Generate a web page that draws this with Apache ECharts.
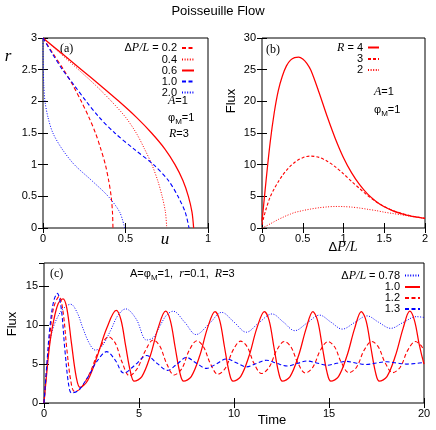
<!DOCTYPE html>
<html><head><meta charset="utf-8">
<script src="https://cdn.jsdelivr.net/npm/echarts@6/dist/echarts.min.js"></script>
<style>html,body{margin:0;padding:0;background:#fff}#c{width:436px;height:430px}</style>
</head><body><div id="c"></div>
<script>
// ---------- Panel (a): velocity profiles, r levels and u values ----------
const rLevels = [3, 2.75, 2.5, 2.25, 2, 1.75, 1.5, 1.25, 1, 0.75, 0.5, 0.25, 0];
const uDP02 = [0, 0.062, 0.125, 0.182, 0.232, 0.278, 0.318, 0.35, 0.378, 0.398, 0.413, 0.421, 0.424];
const uDP04 = [0, 0.108, 0.215, 0.32, 0.415, 0.5, 0.565, 0.615, 0.66, 0.695, 0.722, 0.742, 0.75];
const uDP06 = [0, 0.117, 0.233, 0.348, 0.46, 0.565, 0.658, 0.738, 0.8, 0.848, 0.881, 0.903, 0.913];
const uDP10 = [0, 0.057, 0.118, 0.19, 0.262, 0.34, 0.435, 0.55, 0.67, 0.76, 0.818, 0.862, 0.885];
const uDP20 = [0, 0.0005, 0.002, 0.005, 0.012, 0.03, 0.06, 0.115, 0.19, 0.295, 0.395, 0.465, 0.495];

// ---------- Panel (b): flux vs pressure gradient ----------
const bDP = [0, 0.02, 0.05, 0.1, 0.15, 0.2, 0.25, 0.3, 0.35, 0.4, 0.45, 0.5, 0.55, 0.6, 0.7, 0.8, 0.9, 1.0, 1.1, 1.2, 1.3, 1.4, 1.5, 1.6, 1.7, 1.8, 1.9, 2.0];
const fluxR4 = [1.0, 3.6, 7.5, 13.5, 18.2, 21.7, 24.0, 25.6, 26.5, 26.9, 27.0, 26.7, 26.0, 24.9, 21.4, 17.6, 14.1, 11.1, 8.7, 6.8, 5.3, 4.2, 3.35, 2.75, 2.3, 1.95, 1.7, 1.5];
const fluxR3 = [0.5, 1.6, 3.0, 4.9, 6.2, 7.3, 8.3, 9.1, 9.8, 10.35, 10.8, 11.1, 11.3, 11.35, 11.15, 10.55, 9.65, 8.55, 7.35, 6.2, 5.1, 4.15, 3.4, 2.8, 2.35, 2.0, 1.75, 1.55];
const fluxR2 = [0, 0.12, 0.3, 0.65, 1.0, 1.35, 1.65, 1.95, 2.2, 2.45, 2.6, 2.75, 2.88, 3.0, 3.2, 3.33, 3.4, 3.38, 3.3, 3.15, 2.95, 2.75, 2.5, 2.3, 2.1, 1.9, 1.7, 1.5];

// ---------- Panel (c): flux vs time, [time, flux] ----------
const flux078 = [[0,0],[0.15,4.5],[0.3,7.8],[0.5,9.8],[0.75,11.2],[1.0,12.1],[1.4,12.7],[1.75,11.6],[2.05,9.6],[2.4,7.6],[2.7,6.8],[3.05,7.3],[3.5,9.3],[3.9,11.3],[4.3,12.1],[4.85,10.8],[5.4,8.1],[5.75,8.4],[6.1,9.9],[6.45,11.3],[6.8,11.8],[7.4,10.4],[8.0,8.8],[8.7,10.2],[9.35,11.65],[10.0,10.4],[10.65,9.1],[11.3,10.3],[12.0,11.45],[12.6,10.4],[13.2,9.3],[13.85,10.3],[14.5,11.3],[15.1,10.4],[15.7,9.5],[16.35,10.35],[17.0,11.2],[17.6,10.4],[18.25,9.6],[18.9,10.35],[19.6,11.1],[20,11.0]];
const flux10 = [[0,0],[0.15,4.0],[0.3,7.5],[0.5,10.5],[0.75,12.8],[1.0,13.4],[1.2,12.2],[1.45,7.6],[1.7,3.3],[1.9,2.0],[2.3,2.9],[2.8,6.0],[3.3,9.6],[3.8,11.9],[4.05,10.7],[4.3,7.3],[4.55,4.0],[4.75,2.8],[5.15,3.4],[5.6,6.1],[6.0,9.6],[6.4,11.8],[6.65,10.6],[6.9,7.2],[7.15,3.9],[7.35,2.8],[7.75,3.4],[8.2,6.1],[8.6,9.6],[9.0,11.75],[9.25,10.6],[9.5,7.2],[9.75,3.9],[9.95,2.8],[10.35,3.4],[10.8,6.1],[11.2,9.6],[11.6,11.75],[11.85,10.6],[12.1,7.2],[12.35,3.9],[12.55,2.8],[12.95,3.4],[13.4,6.1],[13.8,9.6],[14.15,11.75],[14.4,10.6],[14.65,7.2],[14.9,3.9],[15.1,2.8],[15.5,3.4],[15.95,6.1],[16.35,9.6],[16.7,11.75],[16.95,10.6],[17.2,7.2],[17.45,3.9],[17.65,2.8],[18.05,3.4],[18.5,6.1],[18.9,9.6],[19.25,11.8],[19.5,10.6],[19.75,7.5],[20,5.0]];
const flux12 = [[0,0],[0.15,4.5],[0.3,8.5],[0.5,12.2],[0.8,13.7],[1.0,11.8],[1.2,7.0],[1.4,3.0],[1.6,1.5],[1.9,1.8],[2.4,3.8],[2.9,6.8],[3.4,8.5],[3.75,7.7],[4.1,5.3],[4.5,3.5],[4.9,4.4],[5.35,6.8],[5.75,8.1],[6.1,7.3],[6.45,5.1],[6.85,3.6],[7.25,4.4],[7.65,6.8],[8.05,8.0],[8.4,7.2],[8.75,5.1],[9.15,3.7],[9.55,4.5],[9.95,6.8],[10.35,7.95],[10.7,7.2],[11.05,5.1],[11.45,3.8],[11.85,4.6],[12.25,6.8],[12.65,7.9],[13.0,7.2],[13.35,5.2],[13.75,3.85],[14.15,4.6],[14.55,6.8],[14.95,7.9],[15.3,7.2],[15.65,5.2],[16.05,3.9],[16.45,4.6],[16.85,6.8],[17.25,7.9],[17.6,7.2],[17.95,5.2],[18.35,3.9],[18.75,4.6],[19.15,6.8],[19.55,7.9],[19.8,7.5],[20,6.8]];
const flux13 = [[0,0],[0.15,5.0],[0.3,9.5],[0.5,13.0],[0.7,14.1],[0.9,12.3],[1.1,6.8],[1.3,2.3],[1.45,1.3],[1.8,1.6],[2.3,3.3],[2.8,5.4],[3.3,6.6],[3.75,5.5],[4.2,3.85],[4.8,4.9],[5.4,6.1],[5.95,5.1],[6.5,4.2],[7.0,5.0],[7.5,5.85],[8.0,5.15],[8.55,4.45],[9.05,5.0],[9.6,5.65],[10.15,5.15],[10.65,4.65],[11.2,5.1],[11.7,5.5],[12.25,5.1],[12.8,4.75],[13.35,5.1],[13.85,5.4],[14.35,5.15],[14.9,4.85],[15.4,5.1],[15.9,5.35],[16.4,5.15],[16.95,4.95],[17.5,5.15],[18.05,5.3],[18.55,5.15],[19.1,5.0],[19.6,5.1],[20,5.2]];

// ---------- labels ----------
const legendA = {'a0.2':'Δ{i|P/L} = 0.2','a0.4':'0.4','a0.6':'0.6','a1.0':'1.0','a2.0':'2.0'};
const legendB = {'b4':'{i|R} = 4','b3':'3','b2':'2'};
const legendC = {'c0.78':'Δ{i|P/L} = 0.78','c1.0':'1.0','c1.2':'1.2','c1.3':'1.3'};

const RED = '#ff0000', BLUE = '#0000ff';
const SANS = 'Liberation Sans', SERIF = 'Liberation Serif';
const labelStyle = {color:'#000', fontFamily:SANS, fontSize:11};

function xAx(grid, min, max, interval, top){
  return {gridIndex:grid, type:'value', min, max, interval, position: top?'top':'bottom',
    axisLine:{show:false}, splitLine:{show:false},
    axisTick:{show:true, inside:true, length:5, lineStyle:{color:'#000', width:1}},
    axisLabel: top ? {show:false} : Object.assign({margin:5, showMaxLabel:true}, labelStyle)};
}
function yAx(grid, min, max, interval, right){
  return {gridIndex:grid, type:'value', min, max, interval, position: right?'right':'left',
    axisLine:{show:false}, splitLine:{show:false},
    axisTick:{show:true, inside:true, length:5, lineStyle:{color:'#000', width:1}},
    axisLabel: right ? {show:false} : Object.assign({margin:6, showMaxLabel: max % interval === 0}, labelStyle)};
}
function line(name, xi, data, color, type, width, smooth){
  return {name, type:'line', xAxisIndex:xi, yAxisIndex:xi, data, symbol:'none', showSymbol:false,
    smooth: smooth, animation:false, clip:true,
    lineStyle:{color, type, width}, itemStyle:{color}};
}
const richI = {i:{fontStyle:'italic', fontFamily:SERIF, fontSize:12, color:'#000'}};
function legend(names, map, right, top, iw){
  return {data:names, orient:'vertical', align:'right', right, top, padding:0,
    itemWidth:iw, itemHeight:10.4, itemGap:0, selectedMode:false,
    itemStyle:{opacity:0, borderWidth:0},
    formatter: n => map[n],
    textStyle:{fontFamily:SANS, fontSize:11, color:'#000', lineHeight:10.4, rich:richI}};
}

const dashA = [4, 2.5], dot = [1, 1.6];
const series = [
  line('a0.2', 0, uDP02.map((u,i)=>[u, rLevels[i]]), RED, dashA, 1.1, 0.3),
  line('a0.4', 0, uDP04.map((u,i)=>[u, rLevels[i]]), RED, dot, 1, 0.3),
  line('a0.6', 0, uDP06.map((u,i)=>[u, rLevels[i]]), RED, 'solid', 1.25, 0.3),
  line('a1.0', 0, uDP10.map((u,i)=>[u, rLevels[i]]), BLUE, dashA, 1.1, 0.3),
  line('a2.0', 0, uDP20.map((u,i)=>[u, rLevels[i]]), BLUE, dot, 1, 0.3),
  line('b4', 2, bDP.map((x,i)=>[x, fluxR4[i]]), RED, 'solid', 1.25, 0.3),
  line('b3', 2, bDP.map((x,i)=>[x, fluxR3[i]]), RED, [3, 2], 1.1, 0.3),
  line('b2', 2, bDP.map((x,i)=>[x, fluxR2[i]]), RED, dot, 1, 0.3),
  line('c0.78', 4, flux078, BLUE, dot, 1, 0.35),
  line('c1.0', 4, flux10, RED, 'solid', 1.25, 0.35),
  line('c1.2', 4, flux12, RED, dashA, 1.1, 0.35),
  line('c1.3', 4, flux13, BLUE, dashA, 1.1, 0.35)
];

const txt = (x, y, text, opts) => ({type:'text', x, y, silent:true, rotation: opts && opts.rot || 0,
  style: Object.assign({text, fill:'#000', fontFamily:SANS, fontSize:11,
    textAlign: (opts && opts.align) || 'left', textVerticalAlign:'middle',
    rich: {
      i:{fontStyle:'italic', fontFamily:SERIF, fontSize:12},
      n:{fontFamily:SANS, fontSize:11},
      s:{fontFamily:SANS, fontSize:8, padding:[7,0,0,0], lineHeight:8}
    }}, (opts && opts.style) || {})});

const option = {
  animation:false,
  backgroundColor:'#fff',
  title:{text:'Poisseuille Flow', left:'center', top:5, padding:0,
    textStyle:{fontFamily:SANS, fontSize:13, fontWeight:'normal', color:'#000'}},
  grid:[
    {left:43, top:38, width:165, height:190, show:true, borderColor:'#000', borderWidth:1},
    {left:262, top:38, width:163, height:190, show:true, borderColor:'#000', borderWidth:1},
    {left:44, top:263, width:380, height:140, show:true, borderColor:'#000', borderWidth:1}
  ],
  xAxis:[xAx(0,0,1,0.5,false), xAx(0,0,1,0.5,true), xAx(1,0,2,0.5,false), xAx(1,0,2,0.5,true), xAx(2,0,20,5,false), xAx(2,0,20,5,true)],
  yAxis:[yAx(0,0,3,0.5,false), yAx(0,0,3,0.5,true), yAx(1,0,30,5,false), yAx(1,0,30,5,true), yAx(2,0,18,5,false), yAx(2,0,18,5,true)],
  legend:[
    legend(Object.keys(legendA), legendA, 241, 42, 12),
    legend(Object.keys(legendB), legendB, 56, 41.5, 11),
    legend(Object.keys(legendC), legendC, 15, 269.5, 15)
  ],
  series,
  graphic:[
    txt(60, 49, '(a)', {style:{fontFamily:SERIF, fontSize:12}}),
    txt(266, 50, '(b)', {style:{fontFamily:SERIF, fontSize:12}}),
    txt(50, 274, '(c)', {style:{fontFamily:SERIF, fontSize:12}}),
    txt(168, 101, '{i|A}=1'),
    txt(168, 118, '{n|φ}{s|M}{n|=1}'),
    txt(169, 134, '{i|R}=3'),
    txt(374, 92, '{i|A}=1'),
    txt(374, 110, '{n|φ}{s|M}{n|=1}'),
    txt(130, 274, '{n|A=φ}{s|M}{n|=1,  }{i|r}{n|=0.1,  }{i|R}{n|=3}'),
    txt(8, 57, 'r', {align:'center', style:{fontFamily:SERIF, fontStyle:'italic', fontSize:17}}),
    txt(165, 240, 'u', {align:'center', style:{fontFamily:SERIF, fontStyle:'italic', fontSize:17}}),
    txt(231, 101, 'Flux', {align:'center', rot:Math.PI/2, style:{fontSize:13}}),
    txt(343, 247, 'Δ{i|P/L}', {align:'center', style:{fontSize:13, rich:{i:{fontStyle:'italic', fontFamily:SERIF, fontSize:14}}}}),
    txt(12, 324, 'Flux', {align:'center', rot:Math.PI/2, style:{fontSize:13}}),
    txt(272, 420, 'Time', {align:'center', style:{fontSize:13}})
  ]
};
const chart = echarts.init(document.getElementById('c'));
chart.setOption(option);
</script></body></html>
